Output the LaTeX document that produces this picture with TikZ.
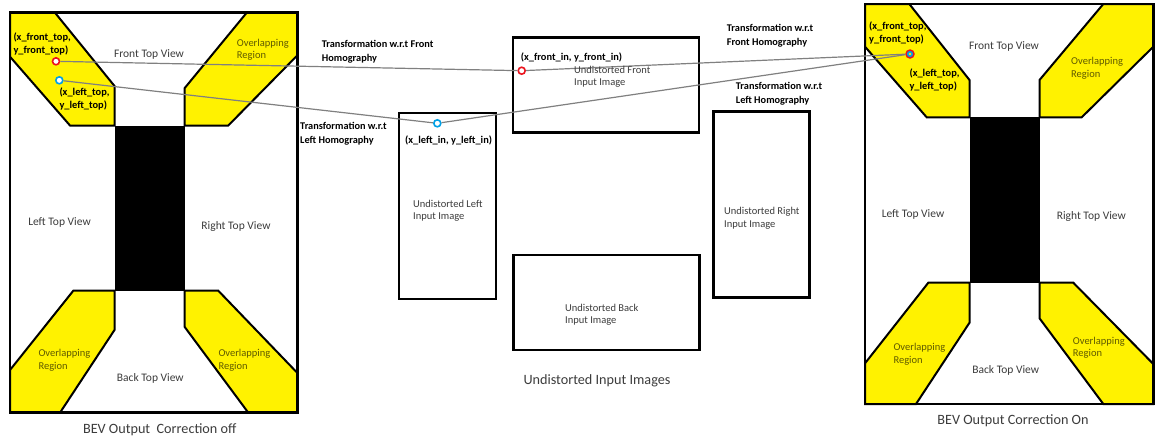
\documentclass[tikz,border=0pt]{standalone}
\usepackage{fontspec}
\setmainfont{Carlito}
\definecolor{ylw}{RGB}{255,242,0}
\definecolor{txtgray}{RGB}{60,60,60}
\definecolor{olv}{RGB}{95,90,0}
\definecolor{linegray}{RGB}{128,128,128}
\definecolor{ptblue}{RGB}{0,160,230}
\definecolor{ptred}{RGB}{235,20,30}
\tikzset{
  frame/.style={draw=black, line width=2.5pt},
  ovl/.style={fill=ylw, draw=black, line width=2pt, line join=miter},
  inbox/.style={draw=black, line width=2.6pt, rectangle, inner sep=0pt},
  lbl/.style={font=\fontsize{10.5}{12.5}\selectfont, text=txtgray, align=left, inner sep=0pt},
  vlbl/.style={lbl, font=\fontsize{11.5}{13}\selectfont},
  olbl/.style={lbl, text=olv},
  blbl/.style={font=\bfseries\fontsize{10.4}{12.5}\selectfont, text=black, align=left, inner sep=0pt},
  tlbl/.style={font=\bfseries\fontsize{10.3}{14}\selectfont, text=black, align=left, inner sep=0pt},
  captxt/.style={font=\fontsize{14.2}{16}\selectfont, text=txtgray, inner sep=0pt},
  link/.style={draw=linegray, line width=1.2pt},
  redpt/.style={circle, draw=ptred, line width=1.6pt, fill=white, minimum size=7pt, inner sep=0pt},
  bluept/.style={circle, draw=ptblue, line width=1.6pt, fill=white, minimum size=7pt, inner sep=0pt},
  mixpt/.style={circle, draw=ptred, line width=1.4pt, fill=ptblue, minimum size=8pt, inner sep=0pt},
}
\begin{document}
\begin{tikzpicture}[x=1pt,y=-1pt]
\useasboundingbox (0,0) rectangle (1161,440);
\fill[white] (0,0) rectangle (1161,440);

% ---------- left BEV panel ----------
\draw[ovl] (10,12.7) -- (55,12.7) -- (114.5,86) -- (114.5,125.5) -- (70,125.5) -- (10,56.7) -- cycle;
\draw[ovl] (246.7,12.7) -- (297.7,12.7) -- (297.7,55) -- (228.3,125.5) -- (184.5,125.5) -- (184.5,88.3) -- cycle;
\draw[ovl] (10,370) -- (73.3,290.7) -- (114.5,290.7) -- (114.5,330) -- (60,412.7) -- (10,412.7) -- cycle;
\draw[ovl] (184.5,290.7) -- (218.3,290.7) -- (297.7,373.3) -- (297.7,412.7) -- (248.3,412.7) -- (184.5,326.7) -- cycle;
\fill[black] (114.5,125.5) rectangle (184.5,290.7);
\draw[frame] (10,12.7) rectangle (297.7,412.7);

% ---------- right BEV panel ----------
\draw[ovl] (865,4) -- (909.3,4) -- (969.5,80) -- (969.5,117.3) -- (926.7,117.3) -- (865,46.7) -- cycle;
\draw[ovl] (1103.3,4) -- (1153.3,4) -- (1153.3,46.7) -- (1081.7,117.3) -- (1039.5,117.3) -- (1039.5,80) -- cycle;
\draw[ovl] (865,363.3) -- (928.3,282.7) -- (969.5,282.7) -- (969.5,322.7) -- (916,404) -- (865,404) -- cycle;
\draw[ovl] (1039.5,282.7) -- (1073.3,282.7) -- (1153.3,364) -- (1153.3,404) -- (1103.3,404) -- (1039.5,318.3) -- cycle;
\fill[black] (969.5,117.3) rectangle (1039.5,282.7);
\draw[frame] (865,4) rectangle (1153.3,404);

% ---------- input image boxes ----------
\node[inbox, minimum width=97pt, minimum height=186pt] (leftbox) at (447.5,206) {};
\node[inbox, minimum width=186pt, minimum height=95pt] (frontbox) at (606,85.2) {};
\node[inbox, minimum width=186pt, minimum height=95pt] (backbox) at (606.3,302.5) {};
\node[inbox, minimum width=96pt, minimum height=186pt] (rightbox) at (761.3,204.7) {};

% ---------- points ----------
\node[redpt] (lft) at (56,61.3) {};
\node[bluept] (llt) at (59.3,80.3) {};
\node[redpt] (fin) at (521.7,70.7) {};
\node[bluept] (lin) at (437.3,123.3) {};
\node[mixpt] (rtop) at (910,54) {};
\node[circle, fill=ylw, minimum size=2.6pt, inner sep=0pt] (rtopc) at (910,54) {};

% ---------- connectors ----------
\draw[link] (lft) -- (fin);
\draw[link] (fin) -- (rtop);
\draw[link] (llt) -- (lin);
\draw[link] (lin) -- (rtop);

% ---------- left panel texts ----------
\node[blbl, anchor=west] (lftt) at (13.3,44.2) {(x\_front\_top,\\y\_front\_top)};
\node[blbl, anchor=west] (lltt) at (59.3,98.8) {(x\_left\_top,\\y\_left\_top)};
\node[vlbl] (lfv) at (149,54) {Front Top View};
\node[olbl, anchor=west] (lov1) at (236.7,49.7) {Overlapping\\Region};
\node[vlbl] (llv) at (59.5,222.5) {Left Top View};
\node[vlbl] (lrv) at (236,226) {Right Top View};
\node[olbl, anchor=west] (lov2) at (38.3,360.3) {Overlapping\\Region};
\node[olbl, anchor=west] (lov3) at (218.3,360.3) {Overlapping\\Region};
\node[vlbl] (lbv) at (150.3,378.7) {Back Top View};
\node[captxt] (lcap) at (159.7,429.3) {BEV Output\ \ Correction off};

% ---------- middle texts ----------
\node[tlbl, anchor=west] (tf1) at (321.7,51.3) {Transformation w.r.t Front\\Homography};
\node[tlbl, anchor=west] (tl1) at (300,133.7) {Transformation w.r.t\\Left Homography};
\node[blbl, anchor=west] (fint) at (520.7,57.7) {(x\_front\_in, y\_front\_in)};
\node[lbl, anchor=west] (ftxt) at (574,76.7) {Undistorted Front\\Input Image};
\node[blbl, anchor=west] (lint) at (405,140) {(x\_left\_in, y\_left\_in)};
\node[lbl, anchor=west] (ltxt) at (413,210.5) {Undistorted Left\\Input Image};
\node[lbl, anchor=west] (btxt) at (565,314.5) {Undistorted Back\\Input Image};
\node[lbl, anchor=west] (rtxt) at (724,218) {Undistorted Right\\Input Image};
\node[tlbl, anchor=west] (tf2) at (726.7,36.2) {Transformation w.r.t\\Front Homography};
\node[tlbl, anchor=west] (tl2) at (735.7,93.7) {Transformation w.r.t\\Left Homography};
\node[captxt] (mcap) at (597,381) {Undistorted Input Images};

% ---------- right panel texts ----------
\node[blbl, anchor=west] (rftt) at (869,33) {(x\_front\_top,\\y\_front\_top)};
\node[blbl, anchor=west] (rltt) at (909.3,80.2) {(x\_left\_top,\\y\_left\_top)};
\node[vlbl] (rfv) at (1004,46) {Front Top View};
\node[olbl, anchor=west] (rov1) at (1071,68.3) {Overlapping\\Region};
\node[vlbl] (rlv) at (913,214) {Left Top View};
\node[vlbl] (rrv) at (1091.3,216.7) {Right Top View};
\node[olbl, anchor=west] (rov2) at (893.3,354.2) {Overlapping\\Region};
\node[olbl, anchor=west] (rov3) at (1072.7,347.5) {Overlapping\\Region};
\node[vlbl] (rbv) at (1005.7,370.7) {Back Top View};
\node[captxt] (rcap) at (1013,420.7) {BEV Output Correction On};
\end{tikzpicture}
\end{document}
